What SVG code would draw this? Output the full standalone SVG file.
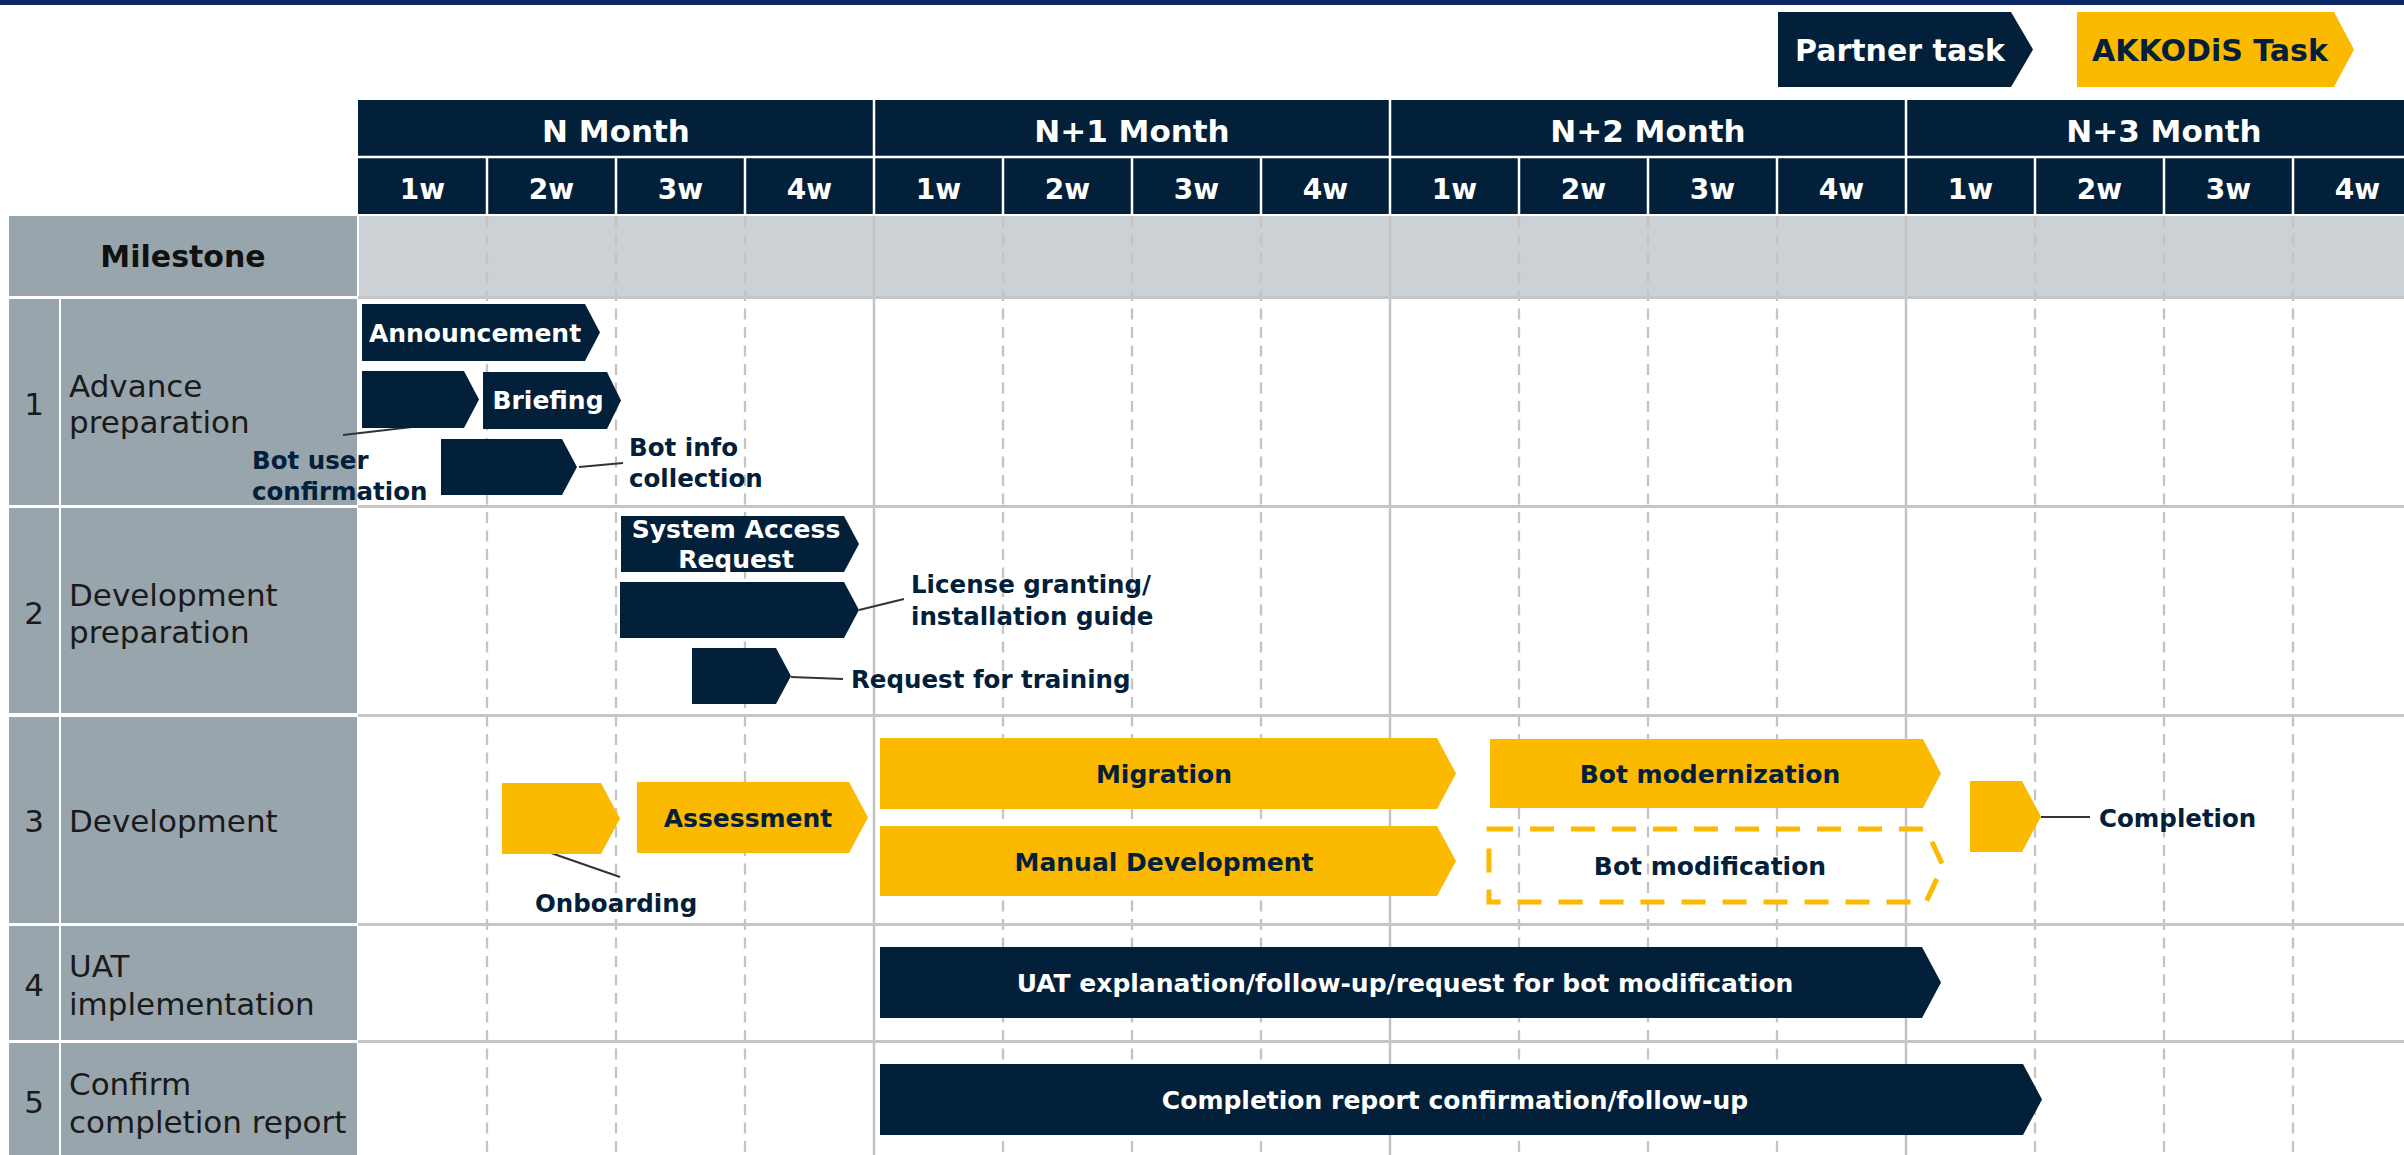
<svg xmlns="http://www.w3.org/2000/svg" width="2404" height="1155" viewBox="0 0 2404 1155">
<style>
text{font-family:"DejaVu Sans",Verdana,sans-serif}
.hd{fill:#fff;font-weight:bold;font-size:31px;text-anchor:middle}
.wk{fill:#fff;font-weight:bold;font-size:28px;text-anchor:middle}
.lbl{fill:#1a1a1a;font-size:31px}
.num{fill:#1a1a1a;font-size:31px;text-anchor:middle}
.ms{fill:#111;font-weight:bold;font-size:30px;text-anchor:middle}
.navy{fill:#022039}
.yel{fill:#fbb900}
.gray{fill:#99a5ad}
.tw{fill:#fff;font-weight:bold;font-size:25px;text-anchor:middle}
.tn{fill:#022039;font-weight:bold;font-size:25px;text-anchor:middle}
.an{fill:#022039;font-weight:bold;font-size:24.5px}
.lg{font-weight:bold;font-size:30px;text-anchor:middle}
.lead{stroke:#333;stroke-width:2;fill:none}
.dash{stroke:#c4c4c4;stroke-width:2.3;stroke-dasharray:11 7.5}
.mon{stroke:#c3c3c3;stroke-width:2.5}
.rowsep{stroke:#c6c6c6;stroke-width:3}
.wsep{stroke:#fff;stroke-width:2.5}
</style>
<rect x="0" y="0" width="2404" height="5" fill="#0b2766"/>

<g id="legend">
  <g id="legend-partner">
    <polygon class="navy" points="1778,12 2011,12 2033,49.5 2011,87 1778,87"/>
    <text class="lg" x="1900" y="61" fill="#fff">Partner task</text>
  </g>
  <g id="legend-akkodis">
    <polygon class="yel" points="2077,12 2334,12 2354,49.5 2334,87 2077,87"/>
    <text class="lg" x="2210" y="61" fill="#022039">AKKODiS Task</text>
  </g>
</g>

<g id="header">
  <rect x="358" y="100" width="2046" height="114" fill="#022039"/>
  <line class="wsep" x1="358" y1="157" x2="2404" y2="157"/>
  <line class="wsep" x1="874" y1="100" x2="874" y2="214"/>
  <line class="wsep" x1="1390" y1="100" x2="1390" y2="214"/>
  <line class="wsep" x1="1906" y1="100" x2="1906" y2="214"/>
  <g>
    <line class="wsep" x1="487" y1="157" x2="487" y2="214"/>
    <line class="wsep" x1="616" y1="157" x2="616" y2="214"/>
    <line class="wsep" x1="745" y1="157" x2="745" y2="214"/>
    <line class="wsep" x1="1003" y1="157" x2="1003" y2="214"/>
    <line class="wsep" x1="1132" y1="157" x2="1132" y2="214"/>
    <line class="wsep" x1="1261" y1="157" x2="1261" y2="214"/>
    <line class="wsep" x1="1519" y1="157" x2="1519" y2="214"/>
    <line class="wsep" x1="1648" y1="157" x2="1648" y2="214"/>
    <line class="wsep" x1="1777" y1="157" x2="1777" y2="214"/>
    <line class="wsep" x1="2035" y1="157" x2="2035" y2="214"/>
    <line class="wsep" x1="2164" y1="157" x2="2164" y2="214"/>
    <line class="wsep" x1="2293" y1="157" x2="2293" y2="214"/>
  </g>
  <text class="hd" x="616" y="142">N Month</text>
  <text class="hd" x="1132" y="142">N+1 Month</text>
  <text class="hd" x="1648" y="142">N+2 Month</text>
  <text class="hd" x="2164" y="142">N+3 Month</text>
  <text class="wk" x="422.5" y="199">1w</text>
  <text class="wk" x="551.5" y="199">2w</text>
  <text class="wk" x="680.5" y="199">3w</text>
  <text class="wk" x="809.5" y="199">4w</text>
  <text class="wk" x="938.5" y="199">1w</text>
  <text class="wk" x="1067.5" y="199">2w</text>
  <text class="wk" x="1196.5" y="199">3w</text>
  <text class="wk" x="1325.5" y="199">4w</text>
  <text class="wk" x="1454.5" y="199">1w</text>
  <text class="wk" x="1583.5" y="199">2w</text>
  <text class="wk" x="1712.5" y="199">3w</text>
  <text class="wk" x="1841.5" y="199">4w</text>
  <text class="wk" x="1970.5" y="199">1w</text>
  <text class="wk" x="2099.5" y="199">2w</text>
  <text class="wk" x="2228.5" y="199">3w</text>
  <text class="wk" x="2357.5" y="199">4w</text>
</g>

<g id="grid">
  <rect x="359" y="216" width="2045" height="80" fill="#ccd1d5"/>
  <line class="dash" x1="487" y1="216" x2="487" y2="1155"/>
  <line class="dash" x1="616" y1="216" x2="616" y2="1155"/>
  <line class="dash" x1="745" y1="216" x2="745" y2="1155"/>
  <line class="dash" x1="1003" y1="216" x2="1003" y2="1155"/>
  <line class="dash" x1="1132" y1="216" x2="1132" y2="1155"/>
  <line class="dash" x1="1261" y1="216" x2="1261" y2="1155"/>
  <line class="dash" x1="1519" y1="216" x2="1519" y2="1155"/>
  <line class="dash" x1="1648" y1="216" x2="1648" y2="1155"/>
  <line class="dash" x1="1777" y1="216" x2="1777" y2="1155"/>
  <line class="dash" x1="2035" y1="216" x2="2035" y2="1155"/>
  <line class="dash" x1="2164" y1="216" x2="2164" y2="1155"/>
  <line class="dash" x1="2293" y1="216" x2="2293" y2="1155"/>
  <line class="mon" x1="874" y1="216" x2="874" y2="1155"/>
  <line class="mon" x1="1390" y1="216" x2="1390" y2="1155"/>
  <line class="mon" x1="1906" y1="216" x2="1906" y2="1155"/>
  <line class="rowsep" x1="358" y1="297.5" x2="2404" y2="297.5"/>
  <line class="rowsep" x1="358" y1="506.5" x2="2404" y2="506.5"/>
  <line class="rowsep" x1="358" y1="715.5" x2="2404" y2="715.5"/>
  <line class="rowsep" x1="358" y1="924.5" x2="2404" y2="924.5"/>
  <line class="rowsep" x1="358" y1="1041.5" x2="2404" y2="1041.5"/>
</g>

<g id="row-labels">
  <g id="milestone-label">
    <rect class="gray" x="9" y="216" width="348" height="80"/>
    <text class="ms" x="183" y="267">Milestone</text>
  </g>
  <g id="row1-label">
    <rect class="gray" x="9" y="299" width="50" height="206"/>
    <rect class="gray" x="61" y="299" width="296" height="206"/>
    <text class="num" x="34" y="415">1</text>
    <text class="lbl" x="69" y="397">Advance</text>
    <text class="lbl" x="69" y="433">preparation</text>
  </g>
  <g id="row2-label">
    <rect class="gray" x="9" y="508" width="50" height="205"/>
    <rect class="gray" x="61" y="508" width="296" height="205"/>
    <text class="num" x="34" y="624">2</text>
    <text class="lbl" x="69" y="606">Development</text>
    <text class="lbl" x="69" y="643">preparation</text>
  </g>
  <g id="row3-label">
    <rect class="gray" x="9" y="717" width="50" height="206"/>
    <rect class="gray" x="61" y="717" width="296" height="206"/>
    <text class="num" x="34" y="832">3</text>
    <text class="lbl" x="69" y="832">Development</text>
  </g>
  <g id="row4-label">
    <rect class="gray" x="9" y="926" width="50" height="114"/>
    <rect class="gray" x="61" y="926" width="296" height="114"/>
    <text class="num" x="34" y="996">4</text>
    <text class="lbl" x="69" y="977">UAT</text>
    <text class="lbl" x="69" y="1015">implementation</text>
  </g>
  <g id="row5-label">
    <rect class="gray" x="9" y="1043" width="50" height="112"/>
    <rect class="gray" x="61" y="1043" width="296" height="112"/>
    <text class="num" x="34" y="1113">5</text>
    <text class="lbl" x="69" y="1095">Confirm</text>
    <text class="lbl" x="69" y="1133">completion report</text>
  </g>
</g>

<g id="connectors">
  <line class="lead" x1="343" y1="435" x2="412" y2="427"/>
  <line class="lead" x1="579" y1="467" x2="623" y2="463"/>
  <line class="lead" x1="859" y1="610" x2="904" y2="599"/>
  <line class="lead" x1="791" y1="677" x2="843" y2="679"/>
  <line class="lead" x1="551" y1="853" x2="620" y2="877"/>
  <line class="lead" x1="2041" y1="817" x2="2090" y2="817"/>
</g>

<g id="task-announcement">
  <polygon class="navy" points="362,304 585,304 600,332.5 585,361 362,361"/>
  <text class="tw" x="475" y="342">Announcement</text>
</g>
<g id="task-bot-user-confirmation">
  <polygon class="navy" points="362,371 464,371 479,399.5 464,428 362,428"/>
  <text class="an" x="252" y="469">Bot user</text>
  <text class="an" x="252" y="500">confirmation</text>
</g>
<g id="task-briefing">
  <polygon class="navy" points="483,372 607,372 621,400.5 607,429 483,429"/>
  <text class="tw" x="548" y="409">Briefing</text>
</g>
<g id="task-bot-info-collection">
  <polygon class="navy" points="441,439 562,439 577,467 562,495 441,495"/>
  <text class="an" x="629" y="456">Bot info</text>
  <text class="an" x="629" y="487">collection</text>
</g>
<g id="task-system-access">
  <polygon class="navy" points="621,516 844,516 859,544 844,572 621,572"/>
  <text class="tw" x="736" y="538">System Access</text>
  <text class="tw" x="736" y="568">Request</text>
</g>
<g id="task-license">
  <polygon class="navy" points="620,582 844,582 859,610 844,638 620,638"/>
  <text class="an" x="911" y="593">License granting/</text>
  <text class="an" x="911" y="625">installation guide</text>
</g>
<g id="task-training">
  <polygon class="navy" points="692,648 776,648 791,676 776,704 692,704"/>
  <text class="an" x="851" y="688">Request for training</text>
</g>
<g id="task-onboarding">
  <polygon class="yel" points="502,783 601,783 620,818.5 601,854 502,854"/>
  <text class="an" x="535" y="912">Onboarding</text>
</g>
<g id="task-assessment">
  <polygon class="yel" points="637,782 849,782 868,817.5 849,853 637,853"/>
  <text class="tn" x="748" y="827">Assessment</text>
</g>
<g id="task-migration">
  <polygon class="yel" points="880,738 1437,738 1456,773.5 1437,809 880,809"/>
  <text class="tn" x="1164" y="783">Migration</text>
</g>
<g id="task-manual-development">
  <polygon class="yel" points="880,826 1437,826 1456,861 1437,896 880,896"/>
  <text class="tn" x="1164" y="871">Manual Development</text>
</g>
<g id="task-bot-modernization">
  <polygon class="yel" points="1490,739 1923,739 1941,773.5 1923,808 1490,808"/>
  <text class="tn" x="1710" y="783">Bot modernization</text>
</g>
<g id="task-bot-modification">
  <polygon points="1489,829 1926,829 1943,865.5 1926,902 1489,902" fill="none" stroke="#fbb900" stroke-width="5" stroke-dasharray="24 17"/>
  <text class="tn" x="1710" y="875">Bot modification</text>
</g>
<g id="task-completion">
  <polygon class="yel" points="1970,781 2022,781 2041,816.5 2022,852 1970,852"/>
  <text class="an" x="2099" y="827">Completion</text>
</g>
<g id="task-uat">
  <polygon class="navy" points="880,947 1922,947 1941,982.5 1922,1018 880,1018"/>
  <text class="tw" x="1405" y="992">UAT explanation/follow-up/request for bot modification</text>
</g>
<g id="task-completion-report">
  <polygon class="navy" points="880,1064 2023,1064 2042,1099.5 2023,1135 880,1135"/>
  <text class="tw" x="1455" y="1109">Completion report confirmation/follow-up</text>
</g>
</svg>
